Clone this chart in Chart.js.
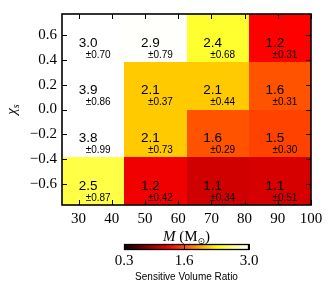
<!DOCTYPE html>
<html>
<head>
<meta charset="utf-8">
<script src="https://cdn.jsdelivr.net/npm/chart.js@4"></script>
<style>
  html, body { margin: 0; padding: 0; background: #fff; }
</style>
</head>
<body>
<canvas id="js-heatmap" width="332" height="292"></canvas>
<script>
const massEdges = [25, 43.75, 62.5, 81.25, 100];
const spinEdges = [-0.77, -0.385, 0, 0.385, 0.77];

// rows go from bottom (chi_s < -0.385) to top
const ratioValues = [
  [2.5, 1.2, 1.1, 1.1],
  [3.8, 2.1, 1.6, 1.5],
  [3.9, 2.1, 2.1, 1.6],
  [3.0, 2.9, 2.4, 1.2]
];
const ratioErrors = [
  [0.87, 0.42, 0.34, 0.51],
  [0.99, 0.73, 0.29, 0.30],
  [0.86, 0.37, 0.44, 0.31],
  [0.70, 0.79, 0.68, 0.31]
];
// unrounded ratios as estimated from the cell shades
const shadeValues = [
  [2.5, 1.23, 1.1, 1.12],
  [3.8, 2.1, 1.62, 1.55],
  [3.9, 2.1, 2.1, 1.62],
  [3.0, 2.99, 2.44, 1.28]
];

const xTicks = [30, 40, 50, 60, 70, 80, 90, 100];
const yTicks = [-0.6, -0.4, -0.2, 0.0, 0.2, 0.4, 0.6];
const colorbarTicks = [0.3, 1.6, 3.0];
const colorMin = 0.3;
const colorMax = 3.0;

const serif = '"Liberation Serif", "DejaVu Serif", serif';
const sans = '"Liberation Sans", Arial, sans-serif';

// matplotlib 'hot' colormap
function hotColor(v) {
  const t = Math.min(Math.max((v - colorMin) / (colorMax - colorMin), 0), 1);
  const r = t < 0.365079 ? 0.0416 + (1 - 0.0416) * t / 0.365079 : 1;
  const g = t < 0.365079 ? 0 : t < 0.746032 ? (t - 0.365079) / (0.746032 - 0.365079) : 1;
  const b = t < 0.746032 ? 0 : (t - 0.746032) / (1 - 0.746032);
  return `rgb(${Math.round(r * 255)},${Math.round(g * 255)},${Math.round(b * 255)})`;
}

const cellPoints = [];
for (let row = 0; row < ratioValues.length; row++) {
  for (let col = 0; col < ratioValues[row].length; col++) {
    cellPoints.push({
      x: (massEdges[col] + massEdges[col + 1]) / 2,
      y: (spinEdges[row] + spinEdges[row + 1]) / 2,
      row,
      col
    });
  }
}

const heatmapPlugin = {
  id: 'heatmap',
  beforeDatasetsDraw(chart) {
    const { ctx, scales: { x, y } } = chart;
    for (const p of cellPoints) {
      const left = Math.round(x.getPixelForValue(massEdges[p.col]));
      const right = Math.round(x.getPixelForValue(massEdges[p.col + 1]));
      const top = Math.round(y.getPixelForValue(spinEdges[p.row + 1]));
      const bottom = Math.round(y.getPixelForValue(spinEdges[p.row]));
      ctx.fillStyle = hotColor(shadeValues[p.row][p.col]);
      ctx.fillRect(left, top, right - left, bottom - top);
    }
  },
  afterDatasetsDraw(chart) {
    const { ctx, chartArea: area, scales: { x, y } } = chart;
    const meta = chart.getDatasetMeta(0);
    ctx.save();
    ctx.fillStyle = '#000';
    ctx.textAlign = 'center';
    ctx.textBaseline = 'middle';
    meta.data.forEach((pt, i) => {
      const p = cellPoints[i];
      ctx.font = `13.5px ${sans}`;
      ctx.fillText(ratioValues[p.row][p.col].toFixed(1), pt.x - 5, pt.y + 5);
      ctx.font = `10px ${sans}`;
      ctx.fillText('\u00b1' + ratioErrors[p.row][p.col].toFixed(2), pt.x + 5, pt.y + 17);
    });

    // inward ticks on all four sides
    ctx.strokeStyle = '#000';
    ctx.lineWidth = 1;
    const tickLen = 5;
    ctx.beginPath();
    for (const v of xTicks) {
      const px = Math.round(x.getPixelForValue(v)) + 0.5;
      ctx.moveTo(px, area.top); ctx.lineTo(px, area.top + tickLen);
      ctx.moveTo(px, area.bottom); ctx.lineTo(px, area.bottom - tickLen);
    }
    for (const v of yTicks) {
      const py = Math.round(y.getPixelForValue(v)) + 0.5;
      ctx.moveTo(area.left, py); ctx.lineTo(area.left + tickLen, py);
      ctx.moveTo(area.right, py); ctx.lineTo(area.right - tickLen, py);
    }
    ctx.stroke();

    ctx.lineWidth = 1.6;
    ctx.strokeRect(area.left, area.top, area.right - area.left, area.bottom - area.top);
    ctx.restore();
  },
  afterDraw(chart) {
    const { ctx, chartArea: area } = chart;
    ctx.save();
    ctx.fillStyle = '#000';

    // x axis title: M (M_sun)
    ctx.textBaseline = 'alphabetic';
    ctx.textAlign = 'left';
    const parts = [
      { text: 'M', font: `italic 15px ${serif}`, dy: 0 },
      { text: ' (M', font: `15px ${serif}`, dy: 0 },
      { text: '\u2299', font: `9px "DejaVu Sans", ${sans}`, dy: 3 },
      { text: ')', font: `15px ${serif}`, dy: 0 }
    ];
    let total = 0;
    for (const part of parts) { ctx.font = part.font; total += ctx.measureText(part.text).width; }
    let cx = (area.left + area.right) / 2 - total / 2;
    for (const part of parts) {
      ctx.font = part.font;
      ctx.fillText(part.text, cx, 241 + part.dy);
      cx += ctx.measureText(part.text).width;
    }

    // y axis title: chi_s
    ctx.save();
    ctx.translate(16, (area.top + area.bottom) / 2);
    ctx.rotate(-Math.PI / 2);
    ctx.font = `italic 15px ${serif}`;
    const chiW = ctx.measureText('\u03c7').width;
    ctx.font = `italic 10px ${serif}`;
    const sW = ctx.measureText('s').width;
    ctx.font = `italic 15px ${serif}`;
    ctx.fillText('\u03c7', -(chiW + sW) / 2, 0);
    ctx.font = `italic 10px ${serif}`;
    ctx.fillText('s', -(chiW + sW) / 2 + chiW, 3);
    ctx.restore();

    // colorbar
    const cbLeft = 124, cbRight = 249, cbTop = 244, cbBottom = 250;
    const grad = ctx.createLinearGradient(cbLeft, 0, cbRight, 0);
    for (let i = 0; i <= 40; i++) {
      grad.addColorStop(i / 40, hotColor(colorMin + (colorMax - colorMin) * i / 40));
    }
    ctx.fillStyle = grad;
    ctx.fillRect(cbLeft, cbTop, cbRight - cbLeft, cbBottom - cbTop);
    ctx.strokeStyle = '#000';
    ctx.lineWidth = 1.3;
    ctx.strokeRect(cbLeft + 0.5, cbTop + 0.5, cbRight - cbLeft - 1, cbBottom - cbTop - 1);
    ctx.lineWidth = 1;
    ctx.fillStyle = '#000';
    ctx.textAlign = 'center';
    ctx.textBaseline = 'middle';
    ctx.font = `15px ${serif}`;
    for (const v of colorbarTicks) {
      const px = cbLeft + (v - colorMin) / (colorMax - colorMin) * (cbRight - cbLeft);
      ctx.beginPath();
      ctx.moveTo(Math.round(px) + 0.5, cbTop);
      ctx.lineTo(Math.round(px) + 0.5, cbBottom);
      ctx.stroke();
      ctx.fillText(v.toFixed(1), px, 261);
    }
    ctx.font = `10px ${sans}`;
    ctx.fillText('Sensitive Volume Ratio', (cbLeft + cbRight) / 2, 277.5);
    ctx.restore();
  }
};

const heatmapConfig = {
  type: 'scatter',
  data: {
    datasets: [{
      data: cellPoints.map(p => ({ x: p.x, y: p.y })),
      pointRadius: 0,
      pointHoverRadius: 0
    }]
  },
  options: {
    responsive: false,
    animation: false,
    devicePixelRatio: 1,
    layout: {
      padding: { top: 10, right: 21, left: 0, bottom: 0 }
    },
    scales: {
      x: {
        type: 'linear',
        min: 25,
        max: 100,
        afterBuildTicks: (scale) => { scale.ticks = xTicks.map(v => ({ value: v })); },
        afterFit: (scale) => { scale.height = 87; },
        grid: { display: false, drawTicks: false },
        border: { display: false },
        ticks: {
          color: '#000',
          font: { family: serif, size: 15 },
          padding: 5,
          maxRotation: 0,
          callback: (v) => String(v)
        }
      },
      y: {
        type: 'linear',
        min: -0.77,
        max: 0.77,
        afterBuildTicks: (scale) => { scale.ticks = yTicks.map(v => ({ value: v })); },
        afterFit: (scale) => { scale.width = 62; },
        grid: { display: false, drawTicks: false },
        border: { display: false },
        ticks: {
          color: '#000',
          font: { family: serif, size: 15 },
          padding: 5,
          callback: (v) => v.toFixed(1).replace('-', '\u2212')
        }
      }
    },
    plugins: {
      legend: { display: false },
      tooltip: { enabled: false }
    }
  },
  plugins: [heatmapPlugin]
};

new Chart(document.querySelector('#js-heatmap'), heatmapConfig);
</script>
</body>
</html>
